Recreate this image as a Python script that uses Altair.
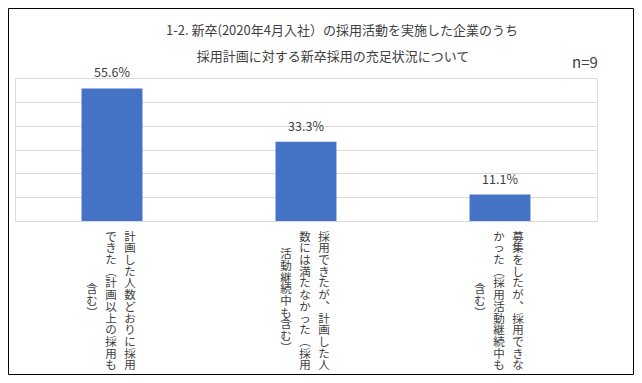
import altair as alt
import pandas as pd

categories = ["A", "B", "C"]
values = [0.556, 0.333, 0.111]
value_labels = ["55.6%", "33.3%", "11.1%"]
label_columns = [
    ["計画した人数どおりに採用", "できた︵計画以上の採用も", "含む︶"],
    ["採用できたが︑計画した人", "数には満たなかった︵採用", "活動継続中も含む︶"],
    ["募集をしたが︑採用できな", "かった︵採用活動継続中も", "含む︶"],
]
title_lines = ["1-2. 新卒(2020年4月入社）の採用活動を実施した企業のうち",
               "採用計画に対する新卒採用の充足状況について"]
n_label = "n=9"
y_ticks = [0, 0.1, 0.2, 0.3, 0.4, 0.5, 0.6]

FONT = "Noto Sans CJK JP"
W, H = 582, 143
PAD = {"left": 7, "top": 70, "right": 37, "bottom": 154}
LH = 11.7
LABEL_MID = 224

bars_df = pd.DataFrame({"cat": categories, "value": values, "label": value_labels})
rows = []
for c, cols in zip(categories, label_columns):
    for i, t in enumerate(cols):
        rows.append({"cat": c, "col": i, "text": "\n".join(list(t))})
lab_df = pd.DataFrame(rows)

xenc = alt.X("cat:N", sort=categories,
             scale=alt.Scale(paddingInner=0.686, paddingOuter=0.343),
             axis=alt.Axis(labels=False, ticks=False, domain=False, title=None, grid=False))
yenc = alt.Y("value:Q", scale=alt.Scale(domain=[0, 0.6], nice=False),
             axis=alt.Axis(values=y_ticks, labels=False, ticks=False, domain=False,
                           title=None, grid=True, gridColor="#d9d9d9", gridWidth=1))

bars = alt.Chart(bars_df).mark_bar(color="#4472C4").encode(x=xenc, y=yenc)
vals = alt.Chart(bars_df).mark_text(font=FONT, fontSize=12.5, baseline="alphabetic", dy=-11,
                                    color="#404040").encode(
    x=xenc, y=yenc, text="label:N")

label_layers = []
for i, dx in enumerate([18, -1, -20]):
    label_layers.append(
        alt.Chart(lab_df).transform_filter(alt.datum.col == i).transform_calculate(
            ypos=f"{LABEL_MID} - ((length(datum.text) + 1) / 2 - 1) / 2 * {LH}"
        ).mark_text(
            font=FONT, fontSize=11.5, lineHeight=LH, baseline="middle", align="center",
            dx=dx, color="#404040", lineBreak="\n").encode(
            x=xenc, y=alt.Y("ypos:Q", scale=None), text="text:N"))

t1 = alt.Chart(pd.DataFrame({"t": [title_lines[0]]})).mark_text(
    font=FONT, fontSize=13, align="center", baseline="middle", color="#404040").encode(
    x=alt.value(327), y=alt.value(-47), text="t:N")
t2 = alt.Chart(pd.DataFrame({"t": [title_lines[1]]})).mark_text(
    font=FONT, fontSize=13, align="center", baseline="middle", color="#404040").encode(
    x=alt.value(318), y=alt.value(-21), text="t:N")
nt = alt.Chart(pd.DataFrame({"t": [n_label]})).mark_text(
    font=FONT, fontSize=15, align="center", baseline="middle", color="#404040").encode(
    x=alt.value(570), y=alt.value(-15), text="t:N")
border = alt.Chart(pd.DataFrame({"t": [1]})).mark_rect(
    filled=False, stroke="#000000", strokeWidth=1).encode(
    x=alt.value(-6.5), x2=alt.value(W + PAD["right"] - 0.5),
    y=alt.value(-PAD["top"] + 0.5), y2=alt.value(H + PAD["bottom"] - 0.5))

chart = alt.layer(bars, vals, *label_layers, t1, t2, nt, border).properties(
    width=W, height=H, autosize=alt.AutoSizeParams(type="none"), padding=PAD
).configure_view(stroke=None).configure(background="white")

chart.save("out.html", embed_options={"renderer": "svg", "actions": False})
